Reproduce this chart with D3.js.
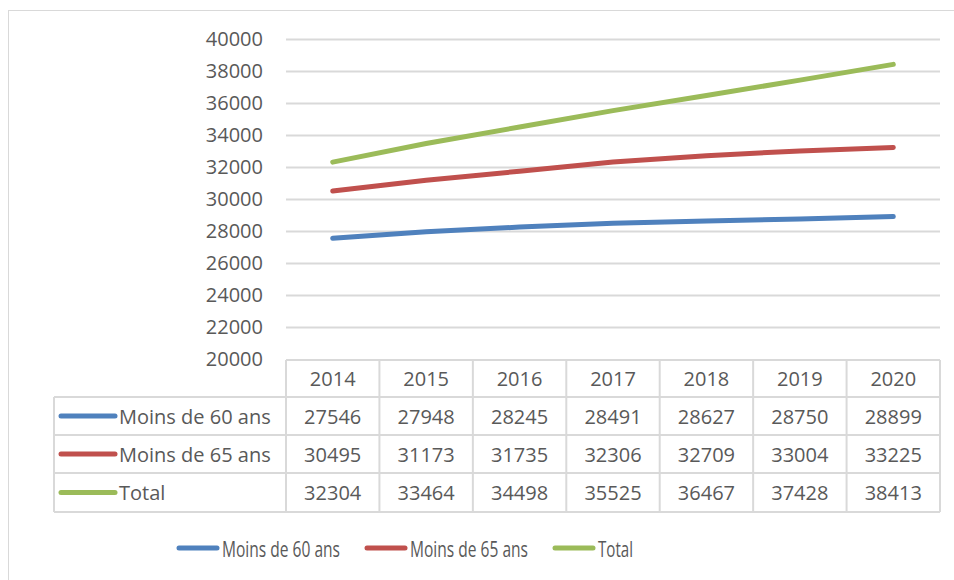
<!DOCTYPE html>
<html>
<head>
<meta charset="utf-8">
<script src="https://cdn.jsdelivr.net/npm/d3@7"></script>
<style>
  body { margin: 0; background: #fff; }
  text { font-family: "Open Sans", sans-serif; fill: #595959; }
</style>
</head>
<body>
<svg id="chart" width="954" height="580"></svg>
<script>
// data
const years = ["2014", "2015", "2016", "2017", "2018", "2019", "2020"];
const seriesNames = ["Moins de 60 ans", "Moins de 65 ans", "Total"];
const moins60 = [27546, 27948, 28245, 28491, 28627, 28750, 28899];
const moins65 = [30495, 31173, 31735, 32306, 32709, 33004, 33225];
const total = [32304, 33464, 34498, 35525, 36467, 37428, 38413];
const yTicks = [20000, 22000, 24000, 26000, 28000, 30000, 32000, 34000, 36000, 38000, 40000];

const colors = ["#4f81bd", "#c0504d", "#9bbb59"];
const series = [moins60, moins65, total];

const svg = d3.select("#chart");
const gridColor = "#d9d9d9";

// outer frame
svg.append("rect")
  .attr("x", 8.5).attr("y", 10.5)
  .attr("width", 960).attr("height", 600)
  .attr("fill", "none").attr("stroke", gridColor);

const plotLeft = 286, plotRight = 940, plotTop = 39, plotBottom = 359;

const x = d3.scaleBand().domain(years).range([plotLeft, plotRight]);
const y = d3.scaleLinear().domain([20000, 40000]).range([plotBottom, plotTop]);

// gridlines + y labels
const yAxis = d3.axisLeft(y).tickValues(yTicks).tickSize(0).tickPadding(23).tickFormat(d3.format("d"));
const yg = svg.append("g").attr("transform", "translate(" + plotLeft + ",0)").call(yAxis);
yg.select(".domain").remove();
yg.selectAll("text").style("font-size", "20px").attr("fill", "#595959");

svg.append("g").selectAll("line")
  .data(yTicks.slice(1))
  .join("line")
  .attr("x1", plotLeft).attr("x2", plotRight)
  .attr("y1", d => Math.round(y(d)) + 0.5).attr("y2", d => Math.round(y(d)) + 0.5)
  .attr("stroke", gridColor).attr("stroke-width", 2);

// lines
const line = d3.line()
  .x((d, i) => x(years[i]) + x.bandwidth() / 2)
  .y(d => y(d));

svg.append("g").selectAll("path")
  .data(series)
  .join("path")
  .attr("d", line)
  .attr("fill", "none")
  .attr("stroke", (d, i) => colors[i])
  .attr("stroke-width", 5)
  .attr("stroke-linecap", "round")
  .attr("stroke-linejoin", "round");

// data table
const rowTops = [360, 397, 435, 473, 512];
const labelLeft = 54;
const tbl = svg.append("g").attr("stroke", gridColor).attr("stroke-width", 2);

// horizontal lines
tbl.append("line").attr("x1", plotLeft).attr("x2", plotRight).attr("y1", rowTops[0]).attr("y2", rowTops[0]);
rowTops.slice(1).forEach(t => {
  tbl.append("line").attr("x1", labelLeft).attr("x2", plotRight).attr("y1", t).attr("y2", t);
});
// vertical lines
const colEdges = years.map(yr => x(yr)).concat([plotRight]);
colEdges.forEach(cx => {
  tbl.append("line").attr("x1", cx).attr("x2", cx).attr("y1", rowTops[0]).attr("y2", rowTops[4]);
});
tbl.append("line").attr("x1", labelLeft).attr("x2", labelLeft).attr("y1", rowTops[1]).attr("y2", rowTops[4]);

// header
svg.append("g").selectAll("text")
  .data(years)
  .join("text")
  .attr("x", d => x(d) + x.bandwidth() / 2)
  .attr("y", (rowTops[0] + rowTops[1]) / 2)
  .attr("text-anchor", "middle")
  .attr("dominant-baseline", "central")
  .style("font-size", "20px")
  .text(d => d);

series.forEach((vals, si) => {
  const cy = (rowTops[si + 1] + rowTops[si + 2]) / 2;
  const row = svg.append("g");
  row.selectAll("text.v")
    .data(vals)
    .join("text")
    .attr("class", "v")
    .attr("x", (d, i) => x(years[i]) + x.bandwidth() / 2)
    .attr("y", cy)
    .attr("text-anchor", "middle")
    .attr("dominant-baseline", "central")
    .style("font-size", "20px")
    .text(d => d);
  row.append("line")
    .attr("x1", 61).attr("x2", 115)
    .attr("y1", cy).attr("y2", cy)
    .attr("stroke", colors[si]).attr("stroke-width", 5)
    .attr("stroke-linecap", "round");
  row.append("text")
    .attr("x", 119).attr("y", cy)
    .attr("dominant-baseline", "central")
    .style("font-size", "20px")
    .text(seriesNames[si]);
});

// legend (text is horizontally condensed in the original)
const legendX = [177, 365, 553];
const legendW = [118, 118, 35];
const legendY = 548;
const lg = svg.append("g").selectAll("g")
  .data(seriesNames)
  .join("g");
lg.append("line")
  .attr("x1", (d, i) => legendX[i] + 2).attr("x2", (d, i) => legendX[i] + 40)
  .attr("y1", legendY).attr("y2", legendY)
  .attr("stroke", (d, i) => colors[i]).attr("stroke-width", 5)
  .attr("stroke-linecap", "round");
lg.append("text")
  .attr("x", (d, i) => legendX[i] + 45)
  .attr("y", legendY)
  .attr("dominant-baseline", "central")
  .style("font-size", "22px")
  .attr("textLength", (d, i) => legendW[i]).attr("lengthAdjust", "spacingAndGlyphs")
  .text(d => d);
</script>
</body>
</html>
